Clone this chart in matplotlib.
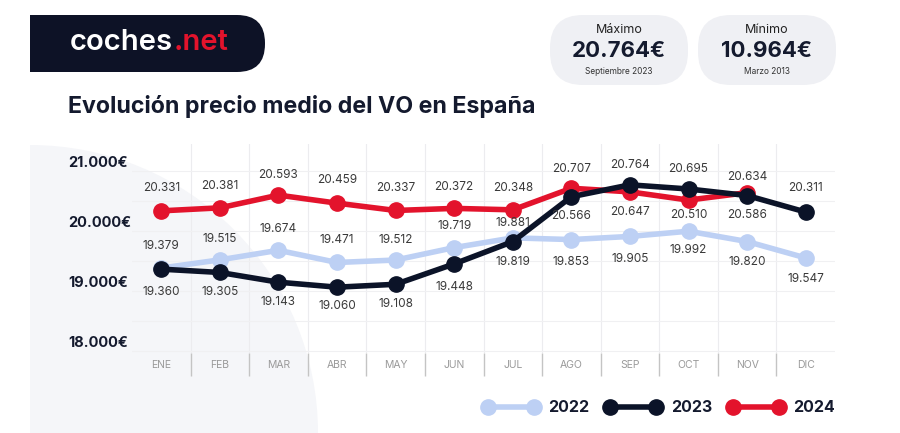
import matplotlib
matplotlib.use("Agg")
import matplotlib.pyplot as plt
import numpy as np
from matplotlib.patches import FancyBboxPatch, Rectangle, Wedge
from matplotlib.transforms import ScaledTranslation, blended_transform_factory

plt.rcParams['font.family'] = ['Inter', 'DejaVu Sans']

months = ['ENE', 'FEB', 'MAR', 'ABR', 'MAY', 'JUN', 'JUL', 'AGO', 'SEP', 'OCT', 'NOV', 'DIC']
p2022 = [19379, 19515, 19674, 19471, 19512, 19719, 19881, 19853, 19905, 19992, 19820, 19547]
p2023 = [19360, 19305, 19143, 19060, 19108, 19448, 19819, 20566, 20764, 20695, 20586, 20311]
p2024 = [20331, 20381, 20593, 20459, 20337, 20372, 20348, 20707, 20647, 20510, 20634, np.nan]
yticks = [18000, 19000, 20000, 21000]

# value label offsets in pixels (positive = above the point)
off2022 = [22, 21, 21, 22, 20, 22, 15, -22, -23, -19, -20, -21]
off2023 = [-23, -20, -20, -19, -20, -23, -20, -19, 20, 20, -19, 24]
off2024 = [23, 22, 20, 23, 22, 21, 22, 19, -20, -15, 16, 0]

C22, C23, C24 = '#bdd0f4', '#0b1328', '#e3132c'
DARK = '#141a2e'

fig = plt.figure(figsize=(9, 4.33), dpi=100)
fig.patch.set_facecolor('white')

# background / header layer in pixel coordinates
bg = fig.add_axes([0, 0, 1, 1], zorder=0)
bg.set_xlim(0, 900)
bg.set_ylim(433, 0)
bg.axis('off')
bg.add_patch(Wedge((30, 433), 288, 270, 360, color='#f5f6f9', lw=0))

# logo
bg.add_patch(FancyBboxPatch((30, 15), 235, 57, boxstyle='round,pad=0,rounding_size=28',
                            color='#0d1226', lw=0))
bg.add_patch(Rectangle((30, 15), 60, 57, color='#0d1226', lw=0))
t1 = bg.text(70, 43, 'coches', color='white', fontsize=21, weight='semibold', va='center', ha='left')
bg.annotate('.net', xy=(1, 43), xycoords=(t1, 'data'), color=C24, fontsize=21,
            weight='semibold', va='center', ha='left')

# max / min pills
for cx, head, val, sub in [(619, 'Máximo', '20.764€', 'Septiembre 2023'),
                           (767, 'Mínimo', '10.964€', 'Marzo 2013')]:
    bg.add_patch(FancyBboxPatch((cx - 69, 15), 138, 70, boxstyle='round,pad=0,rounding_size=33',
                                color='#eff0f4', lw=0))
    bg.text(cx, 30, head, ha='center', va='center', fontsize=9, color='#222222')
    bg.text(cx, 51, val, ha='center', va='center', fontsize=16, weight='bold', color=DARK)
    bg.text(cx, 72, sub, ha='center', va='center', fontsize=6, color='#333333')

bg.text(68, 106, 'Evolución precio medio del VO en España', ha='left', va='center',
        fontsize=16.7, weight='bold', color=DARK)

# main chart
ax = fig.add_axes([132 / 900, 1 - 353 / 433, 703 / 900, 209 / 433], zorder=1)
ax.patch.set_alpha(0)
x = np.arange(len(months))

series = [('2022', p2022, C22, off2022, 2),
          ('2024', p2024, C24, off2024, 3),
          ('2023', p2023, C23, off2023, 4)]
handles = {}
for name, vals, col, offs, z in series:
    ln, = ax.plot(x, vals, '-o', color=col, lw=4, markersize=11, zorder=z, label=name)
    handles[name] = ln
    for xi, v, o in zip(x, vals, offs):
        if np.isnan(v):
            continue
        ax.annotate(f'{v / 1000:.3f}', (xi, v), xytext=(0, o * 0.72), textcoords='offset points',
                    ha='center', va='center', fontsize=8.5, color='#3a3a3a', zorder=6)

ax.set_xlim(-0.5, 11.5)
ax.set_ylim(17964, 21444)
ax.set_xticks(x)
ax.set_xticklabels(months, fontsize=7.5, color='#9a9a9a')
ax.set_xticks(x[:-1] + 0.5, minor=True)
ax.tick_params(axis='x', which='major', length=0, pad=5)
ax.tick_params(axis='x', which='minor', length=16.5, width=1, color='#c4c4c4', direction='out')
ax.set_yticks(np.arange(18000, 21001, 500))
ax.set_yticklabels([])
ax.tick_params(axis='y', length=0)
ax.grid(axis='y', which='major', color='#f0f0f2', lw=0.8)
ax.grid(axis='x', which='minor', color='#ececef', lw=0.8)
for sp in ax.spines.values():
    sp.set_visible(False)

tr = blended_transform_factory(fig.transFigure, ax.transData) + \
    ScaledTranslation(0, 8 / 100, fig.dpi_scale_trans)
for v in yticks:
    ax.text(68 / 900, v, f'{v // 1000}.000€', transform=tr, ha='left', va='center',
            fontsize=10.5, weight='bold', color=DARK)

leg = ax.legend([handles['2022'], handles['2023'], handles['2024']], ['2022', '2023', '2024'],
                numpoints=2, ncol=3, frameon=False, handlelength=3.5, handletextpad=0.6,
                columnspacing=1.0, prop={'size': 11.5, 'weight': 'bold'},
                loc='center', bbox_to_anchor=(659 / 900, 1 - 408 / 433),
                bbox_transform=fig.transFigure)
for t in leg.get_texts():
    t.set_color(DARK)

fig.savefig('out.png', dpi=100, facecolor='white')
